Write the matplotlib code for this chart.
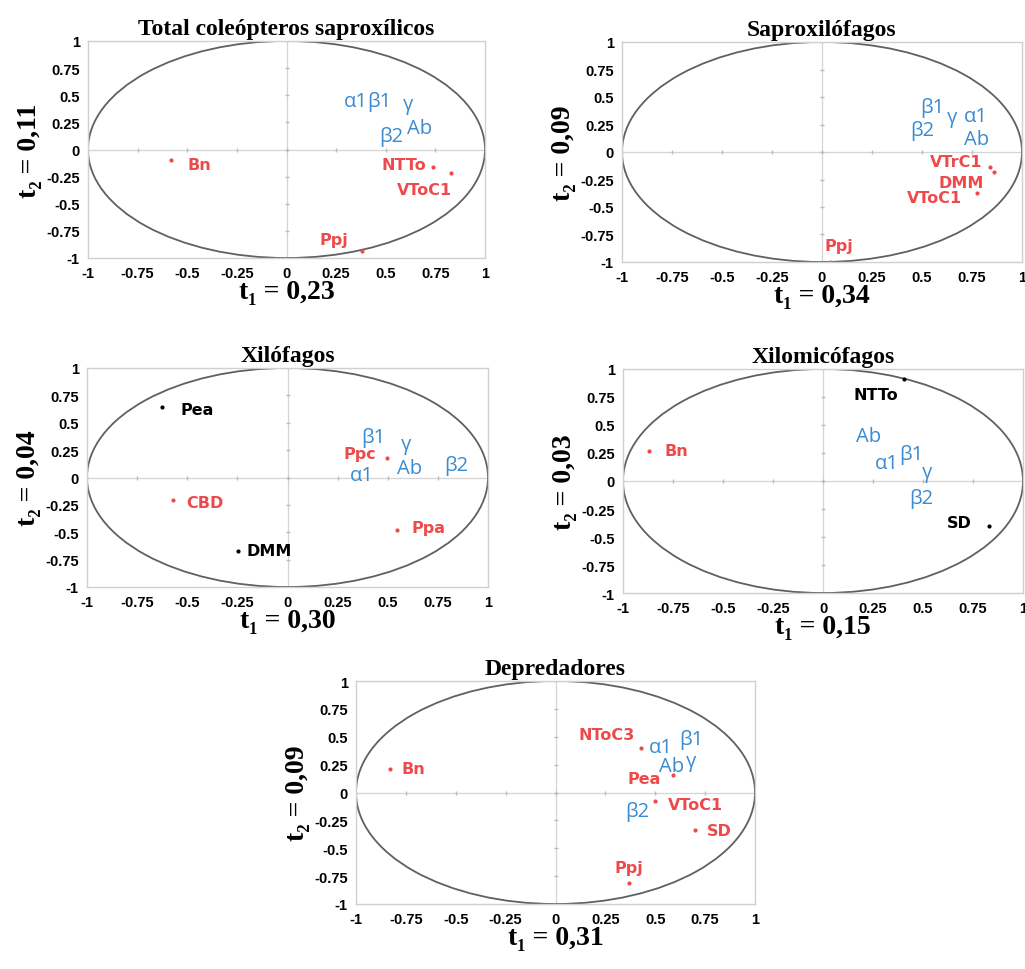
#!/usr/bin/env python3
"""Correlation circles (t1 / t2) for five saproxylic beetle groups."""

import matplotlib
matplotlib.use("Agg")
import matplotlib.pyplot as plt
from matplotlib.patches import Ellipse

# --- data -----------------------------------------------------------------
titles = ["Total coleópteros saproxílicos", "Saproxilófagos", "Xilófagos",
          "Xilomicófagos", "Depredadores"]
t1_values = ["0,23", "0,34", "0,30", "0,15", "0,31"]
t2_values = ["0,11", "0,09", "0,04", "0,03", "0,09"]

# observations (red = significant, black = not)
p1_names = ["Bn", "NTTo", "VToC1", "Ppj"]
p1_x = [-0.58, 0.74, 0.83, 0.38]
p1_y = [-0.10, -0.165, -0.22, -0.94]
p1_sig = [True, True, True, True]

p2_names = ["VTrC1", "DMM", "VToC1", "Ppj"]
p2_x = [0.84, 0.86, 0.775, 0.04]
p2_y = [-0.14, -0.18, -0.37, -1.0]
p2_sig = [True, True, True, True]

p3_names = ["Pea", "CBD", "DMM", "Ppc", "Ppa"]
p3_x = [-0.625, -0.57, -0.245, 0.495, 0.545]
p3_y = [0.64, -0.21, -0.67, 0.18, -0.48]
p3_sig = [False, True, False, True, True]

p4_names = ["NTTo", "Bn", "SD"]
p4_x = [0.405, -0.87, 0.83]
p4_y = [0.91, 0.27, -0.40]
p4_sig = [False, True, False]

p5_names = ["Bn", "NToC3", "Pea", "VToC1", "SD", "Ppj"]
p5_x = [-0.83, 0.43, 0.59, 0.50, 0.70, 0.37]
p5_y = [0.215, 0.40, 0.155, -0.08, -0.34, -0.815]
p5_sig = [True, True, True, True, True, True]

# response variables (blue labels)
var_names = ["α1", "β1", "γ", "β2", "Ab"]
p1_var_x = [0.35, 0.47, 0.61, 0.53, 0.67]
p1_var_y = [0.45, 0.45, 0.42, 0.12, 0.20]
p2_var_x = [0.77, 0.55, 0.65, 0.50, 0.775]
p2_var_y = [0.33, 0.41, 0.32, 0.20, 0.12]
p3_var_x = [0.37, 0.43, 0.59, 0.84, 0.61]
p3_var_y = [0.02, 0.37, 0.31, 0.11, 0.085]
p4_var_x = [0.32, 0.44, 0.52, 0.49, 0.23]
p4_var_y = [0.16, 0.24, 0.08, -0.155, 0.40]
p5_var_x = [0.53, 0.68, 0.68, 0.41, 0.58]
p5_var_y = [0.41, 0.48, 0.28, -0.17, 0.235]

tick_vals = [-1, -0.75, -0.5, -0.25, 0, 0.25, 0.5, 0.75, 1]
tick_labels = ["-1", "-0.75", "-0.5", "-0.25", "0", "0.25", "0.5", "0.75", "1"]

# --- label placement (pixel offsets from the point, alignment) ------------
p1_off = [(16, -4, "left"), (-7, 3, "right"), (1, -16, "right"), (-14, 12, "right")]
p2_off = [(-8, 6, "right"), (-10, -11, "right"), (-15, -5, "right"), (-5, 16, "left")]
p3_off = [(18, -2, "left"), (13, -2, "left"), (8, 0, "left"), (-10, 4, "right"),
          (15, 3, "left")]
p4_off = [(-28, -15, "center"), (15, 0, "left"), (-17, 3, "right")]
p5_off = [(12, 0, "left"), (-7, 13, "right"), (-12, -3, "right"), (13, -3, "left"),
          (12, 0, "left"), (0, 16, "center")]

RED = "#ee4a4c"
BLUE = "#3a8bd0"

W, H = 1025, 970
boxes = [(88, 42, 485, 259), (622, 43, 1022, 263), (87, 369, 488, 588),
         (623, 370, 1023, 594), (356, 682, 755, 905)]

panels = [
    (p1_names, p1_x, p1_y, p1_sig, p1_off, p1_var_x, p1_var_y),
    (p2_names, p2_x, p2_y, p2_sig, p2_off, p2_var_x, p2_var_y),
    (p3_names, p3_x, p3_y, p3_sig, p3_off, p3_var_x, p3_var_y),
    (p4_names, p4_x, p4_y, p4_sig, p4_off, p4_var_x, p4_var_y),
    (p5_names, p5_x, p5_y, p5_sig, p5_off, p5_var_x, p5_var_y),
]

serif = ["Liberation Serif", "DejaVu Serif"]
narrow = ["Liberation Sans Narrow", "Liberation Sans", "DejaVu Sans"]

fig = plt.figure(figsize=(W / 100, H / 100), dpi=100)

for i, (names, xs, ys, sig, offs, vx, vy) in enumerate(panels):
    l, t, r, b = boxes[i]
    ax = fig.add_axes([l / W, 1 - b / H, (r - l) / W, (b - t) / H])
    ax.set_xlim(-1, 1)
    ax.set_ylim(-1, 1)
    for s in ax.spines.values():
        s.set_color("#d0d0d0")
        s.set_linewidth(1)
    ax.axhline(0, color="#d4d4d4", lw=0.9, zorder=0)
    ax.axvline(0, color="#d4d4d4", lw=0.9, zorder=0)
    ax.plot(tick_vals, [0] * len(tick_vals), "|", color="#bbbbbb", ms=3, zorder=0)
    ax.plot([0] * len(tick_vals), tick_vals, "_", color="#bbbbbb", ms=3, zorder=0)
    ax.add_patch(Ellipse((0, 0), 2, 2, fill=False, ec="#606060", lw=1.3))

    ax.set_xticks(tick_vals)
    ax.set_yticks(tick_vals)
    ax.set_xticklabels(tick_labels, family=narrow, fontweight="bold", fontsize=10.5)
    ax.set_yticklabels(tick_labels, family=narrow, fontweight="bold", fontsize=10.5)
    ax.tick_params(length=0, pad=6)

    ax.set_title(titles[i], family=serif, fontweight="bold", fontsize=17, pad=5)
    ax.set_xlabel(f"t₁ = {t1_values[i]}", family=serif, fontweight="bold",
                  fontsize=20, labelpad=-1)
    ax.set_ylabel(f"t₂ = {t2_values[i]}", family=serif, fontweight="bold",
                  fontsize=20, labelpad=3)

    for name, x, y, s, (dx, dy, ha) in zip(names, xs, ys, sig, offs):
        c = RED if s else "black"
        ax.plot(x, y, "o", color=c, ms=3, mec="none")
        ax.annotate(name, (x, y), xytext=(dx, dy), textcoords="offset pixels",
                    ha=ha, va="center", color=c, fontsize=11.5,
                    fontweight="bold", family="DejaVu Sans")

    for name, x, y in zip(var_names, vx, vy):
        ax.text(x, y, name, color=BLUE, fontsize=14.5, ha="center", va="center",
                family=["Open Sans", "DejaVu Sans"])

fig.savefig("out.png", dpi=100)
plt.close(fig)
